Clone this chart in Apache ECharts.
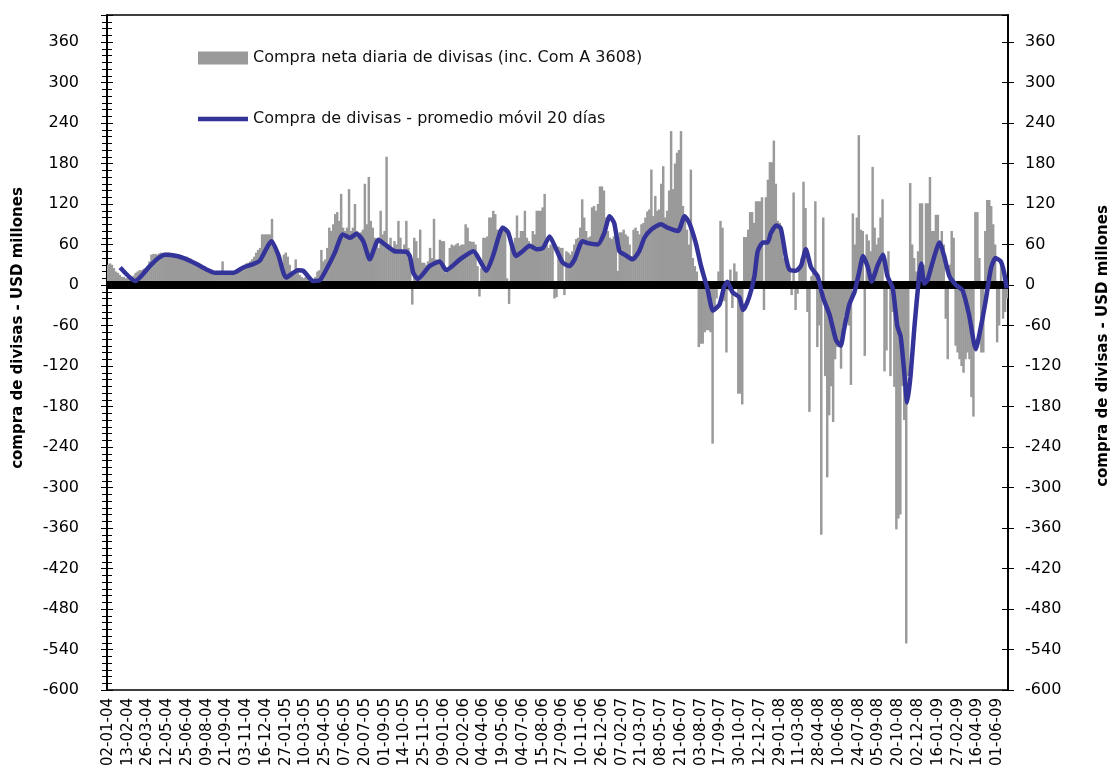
<!DOCTYPE html>
<html><head><meta charset="utf-8">
<script src="https://cdn.jsdelivr.net/npm/echarts@6/dist/echarts.min.js"></script>
<style>html,body{margin:0;padding:0;background:#fff}#c{width:1114px;height:778px}</style>
</head><body><div id="c"></div>
<script>
// x-axis tick labels (one every 30 business days)
const dateLabels = ['02-01-04','13-02-04','26-03-04','12-05-04','25-06-04','09-08-04','21-09-04','03-11-04','16-12-04','27-01-05','10-03-05','25-04-05','07-06-05','20-07-05','01-09-05','14-10-05','25-11-05','09-01-06','20-02-06','04-04-06','19-05-06','04-07-06','15-08-06','27-09-06','10-11-06','26-12-06','07-02-07','21-03-07','08-05-07','21-06-07','03-08-07','17-09-07','30-10-07','12-12-07','29-01-08','11-03-08','28-04-08','10-06-08','24-07-08','05-09-08','20-10-08','02-12-08','16-01-09','27-02-09','16-04-09','01-06-09'];

// daily net purchases, sampled every 3 business days (10 per label interval)
const barValues = [
 30,32,30,25,20,18,15,12,12,10,
 10,8,10,14,18,20,22,22,24,25,
 28,35,45,46,46,45,47,48,47,48,
 48,48,47,47,46,45,45,44,43,42,
 42,40,39,37,35,33,32,30,28,27,
 25,22,20,19,18,18,17,20,35,18,
 18,18,19,19,20,22,25,27,28,30,
 32,33,35,38,42,48,52,55,75,75,
 75,75,75,98,60,55,40,30,25,45,
 48,42,30,20,15,38,25,15,12,10,
 12,10,8,6,5,12,20,22,52,35,
 38,55,85,80,90,105,108,95,135,85,
 80,85,142,80,85,120,80,75,78,82,
 150,90,160,95,85,70,60,55,110,75,
 80,190,60,70,55,65,60,95,70,50,
 60,95,55,45,-29,70,65,40,82,33,
 33,30,35,55,40,98,38,35,67,65,
 65,18,20,55,60,58,60,62,58,60,
 60,90,85,65,64,64,60,28,-17,25,
 70,70,72,100,100,110,105,82,82,85,
 82,80,10,-28,65,60,70,103,70,80,
 80,110,70,65,60,80,75,110,110,110,
 115,135,60,55,60,58,-20,-18,57,55,
 55,-15,50,48,45,50,60,68,70,85,
 127,100,80,70,72,115,117,110,120,146,
 146,140,100,80,70,68,72,75,21,78,
 78,82,75,72,60,43,82,85,80,75,
 90,92,100,109,112,171,102,132,110,112,
 150,176,100,110,140,228,142,180,196,200,
 228,117,100,82,60,171,40,28,20,-92,
 -87,-87,-70,-67,-67,-70,-235,-39,-20,20,
 95,85,-24,-100,-8,23,-34,32,20,-161,
 -161,-177,71,71,82,108,108,92,124,124,
 124,130,-37,130,156,182,182,214,150,95,
 92,70,40,40,23,23,-15,137,-37,-13,
 23,40,153,114,-40,-188,13,20,124,-92,
 -60,-370,100,-135,-285,-193,-150,-203,-110,-92,
 -92,-124,-61,-45,-40,-60,-148,106,60,100,
 222,82,80,-105,75,66,50,175,85,60,
 70,100,127,-128,-97,50,-135,-40,-151,-362,
 -346,-340,-150,-200,-531,-135,151,60,40,20,
 50,121,121,30,121,121,160,80,80,104,
 104,60,80,60,-50,-110,30,80,70,-90,
 -100,-110,-120,-130,-110,-100,-110,-166,-195,108,
 108,40,-100,-100,80,126,126,117,90,60,
 -85,-60,30,-50,-40,-20
];

// 20-day moving average: business-day index and value
const maDays = [20,43,65,78,88,106,121,136,151,164,192,207,222,232,250,260,272,290,298,313,323,333,346,358,369,379,389,399,412,422,437,455,460,465,472,490,505,515,536,556,576,586,601,609,621,631,642,652,662,672,682,692,702,710,722,730,745,755,763,770,778,786,798,808,816,826,841,851,867,877,884,894,902,912,920,930,937,942,950,960,966,975,983,988,996,1003,1008,1016,1023,1031,1036,1046,1054,1061,1069,1079,1087,1097,1107,1114,1119,1127,1135,1142,1148,1155,1161,1170,1178,1185,1193,1200,1205,1210,1215,1220,1226,1233,1236,1241,1246,1253,1264,1271,1279,1289,1299,1309,1319,1327,1334,1342,1349,1357,1362,1366];
const maValues = [26,6,28,40,45,43,38,31,23,18,18,26,31,36,65,45,11,22,21,6,7,23,48,75,70,76,65,38,67,60,50,49,42,18,9,28,35,22,38,50,21,43,85,78,43,50,58,53,55,72,53,33,28,38,65,62,60,77,102,92,50,45,38,50,70,82,90,85,80,102,92,62,28,-7,-38,-29,-3,5,-11,-18,-37,-18,13,50,63,63,77,88,84,40,23,21,29,53,26,13,-18,-44,-82,-90,-66,-29,-10,19,43,27,5,29,45,13,-5,-61,-76,-124,-174,-135,-61,13,32,2,8,32,63,43,13,0,-8,-45,-95,-61,-24,24,40,35,19,-5];

const barName = 'Compra neta diaria de divisas (inc. Com A 3608)';
const lineName = 'Compra de divisas - promedio móvil 20 días';
const axisTitle = 'compra de divisas - USD millones';
const yMin = -600, yMax = 400, yStep = 60;
const DAYS_PER_BAR = 3;
const LABEL_EVERY = 10;

const FONT = 'DejaVu Sans';
const BLUE = '#333399';
const cats = barValues.map((_, i) => String(i));

function yAx(pos, inside, labels) {
  return {
    type: 'value', position: pos, min: yMin, max: yMax, interval: yStep,
    axisLine: {show: true, lineStyle: {color: '#000', width: 1.5}},
    axisTick: {show: true, inside: inside, length: 6, lineStyle: {color: '#000', width: 1}},
    minorTick: {show: pos === 'left', splitNumber: 6, length: 5, lineStyle: {color: '#000', width: 1}},
    axisLabel: {show: labels, showMaxLabel: false, fontSize: 16, color: '#000', fontFamily: FONT, margin: pos === 'left' ? 28 : 17},
    splitLine: {show: false}
  };
}

const chart = echarts.init(document.getElementById('c'), null, {renderer: 'canvas'});
chart.setOption({
  animation: false,
  backgroundColor: '#fff',
  textStyle: {fontFamily: FONT},
  grid: {left: 107, right: 106, top: 15, bottom: 88, show: true, borderColor: '#000', borderWidth: 1.5},
  legend: {
    orient: 'vertical', left: 198, top: 50, padding: 0, itemWidth: 50, itemHeight: 13, itemGap: 45,
    selectedMode: false, symbolKeepAspect: true,
    textStyle: {fontSize: 16, color: '#111', fontFamily: FONT},
    data: [
      {name: barName, icon: 'rect'},
      {name: lineName, icon: 'path://M0,0L50,0L50,4.7L0,4.7Z', itemStyle: {color: BLUE, borderWidth: 0}}
    ]
  },
  xAxis: [
    {
      type: 'category', data: cats, boundaryGap: true,
      axisLine: {show: true, lineStyle: {color: '#000', width: 1.5}},
      axisTick: {show: false},
      axisLabel: {
        interval: (i) => i % LABEL_EVERY === 0,
        formatter: (v, i) => dateLabels[i / LABEL_EVERY] || '',
        rotate: 90, fontSize: 15, color: '#000', fontFamily: FONT, margin: 8
      },
      splitLine: {show: false}
    },
    {type: 'value', min: 0, max: barValues.length * DAYS_PER_BAR, show: false}
  ],
  yAxis: [yAx('left', false, true), yAx('left', true, false), yAx('right', false, true), yAx('right', true, false)],
  graphic: [
    {type: 'text', x: 18, y: 328, rotation: Math.PI / 2, style: {text: axisTitle, font: 'bold 15px "DejaVu Sans"', fill: '#000', textAlign: 'center', textVerticalAlign: 'middle'}},
    {type: 'text', x: 1103, y: 346, rotation: Math.PI / 2, style: {text: axisTitle, font: 'bold 15px "DejaVu Sans"', fill: '#000', textAlign: 'center', textVerticalAlign: 'middle'}}
  ],
  series: [
    {
      name: barName, type: 'bar', data: barValues, xAxisIndex: 0, yAxisIndex: 0,
      barWidth: '125%', itemStyle: {color: '#9a9a9a'}, z: 2,
      markLine: {
        silent: true, symbol: ['none', 'none'], label: {show: false},
        lineStyle: {color: '#000', width: 8, type: 'solid'},
        data: [{yAxis: 0}]
      }
    },
    {
      name: lineName, type: 'line', xAxisIndex: 1, yAxisIndex: 0,
      data: maDays.map((d, i) => [d, maValues[i]]),
      symbol: 'none', showSymbol: false, smooth: 0.2,
      lineStyle: {color: BLUE, width: 4.5}, itemStyle: {color: BLUE}, z: 5
    }
  ]
});
</script></body></html>
